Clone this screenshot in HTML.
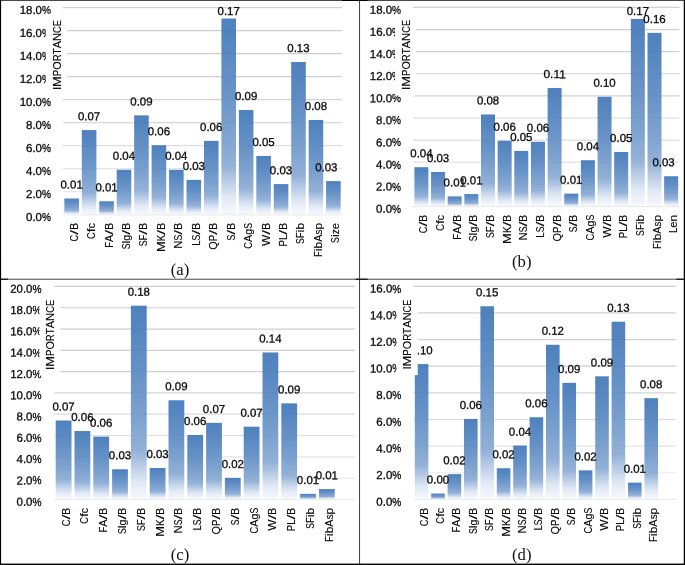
<!DOCTYPE html>
<html><head><meta charset="utf-8"><title>Feature importance</title>
<style>
html,body{margin:0;padding:0;background:#fff;}
svg{display:block;opacity:0.999;will-change:transform;}
text{font-family:"Liberation Sans",sans-serif;font-size:11.6px;fill:#080808;stroke:#080808;stroke-width:0.3px;}
.cap{font-family:"Liberation Serif",serif;font-size:16.7px;fill:#111;stroke:none;}
.g{stroke-width:1.2;}
.r text{stroke-width:0.15px;}
</style></head><body>
<svg width="685" height="565" viewBox="0 0 685 565">
<defs><linearGradient id="bg" x1="0" y1="0" x2="0" y2="1"><stop offset="0" stop-color="#3b73b6"/><stop offset="0.35" stop-color="#5686c1"/><stop offset="0.58" stop-color="#6f98ca"/><stop offset="0.75" stop-color="#88a9d4"/><stop offset="0.8" stop-color="#a3bcde"/><stop offset="0.85" stop-color="#bdd0e8"/><stop offset="0.9" stop-color="#d8e3f2"/><stop offset="0.95" stop-color="#eaeff8"/><stop offset="1.0" stop-color="#f6f8fd"/></linearGradient></defs>
<rect x="0" y="0" width="685" height="565" fill="#fff"/>
<g id="panel-a">
<line class="g" stroke="#eeeeee" x1="62.90" y1="214.60" x2="342.10" y2="214.60"/>
<text x="41.99" y="220.90" transform="rotate(0.03 51.00 220.90)" text-anchor="end" textLength="16.0" lengthAdjust="spacingAndGlyphs">0.0</text>
<text x="51.00" y="220.90" transform="rotate(0.03 51.00 220.90)" text-anchor="end" textLength="9.0" lengthAdjust="spacingAndGlyphs">%</text>
<line class="g" stroke="#e8e8e8" x1="62.90" y1="191.60" x2="342.10" y2="191.60"/>
<text x="41.99" y="197.90" transform="rotate(0.03 51.00 197.90)" text-anchor="end" textLength="16.0" lengthAdjust="spacingAndGlyphs">2.0</text>
<text x="51.00" y="197.90" transform="rotate(0.03 51.00 197.90)" text-anchor="end" textLength="9.0" lengthAdjust="spacingAndGlyphs">%</text>
<line class="g" stroke="#e3e3e3" x1="62.90" y1="168.60" x2="342.10" y2="168.60"/>
<text x="41.99" y="174.90" transform="rotate(0.03 51.00 174.90)" text-anchor="end" textLength="16.0" lengthAdjust="spacingAndGlyphs">4.0</text>
<text x="51.00" y="174.90" transform="rotate(0.03 51.00 174.90)" text-anchor="end" textLength="9.0" lengthAdjust="spacingAndGlyphs">%</text>
<line class="g" stroke="#dddddd" x1="62.90" y1="145.60" x2="342.10" y2="145.60"/>
<text x="41.99" y="151.90" transform="rotate(0.03 51.00 151.90)" text-anchor="end" textLength="16.0" lengthAdjust="spacingAndGlyphs">6.0</text>
<text x="51.00" y="151.90" transform="rotate(0.03 51.00 151.90)" text-anchor="end" textLength="9.0" lengthAdjust="spacingAndGlyphs">%</text>
<line class="g" stroke="#d8d8d8" x1="62.90" y1="122.60" x2="342.10" y2="122.60"/>
<text x="41.99" y="128.90" transform="rotate(0.03 51.00 128.90)" text-anchor="end" textLength="16.0" lengthAdjust="spacingAndGlyphs">8.0</text>
<text x="51.00" y="128.90" transform="rotate(0.03 51.00 128.90)" text-anchor="end" textLength="9.0" lengthAdjust="spacingAndGlyphs">%</text>
<line class="g" stroke="#d2d2d2" x1="62.90" y1="99.60" x2="342.10" y2="99.60"/>
<text x="41.99" y="105.90" transform="rotate(0.03 51.00 105.90)" text-anchor="end" textLength="22.3" lengthAdjust="spacingAndGlyphs">10.0</text>
<text x="51.00" y="105.90" transform="rotate(0.03 51.00 105.90)" text-anchor="end" textLength="9.0" lengthAdjust="spacingAndGlyphs">%</text>
<line class="g" stroke="#d0d0d0" x1="62.90" y1="76.60" x2="342.10" y2="76.60"/>
<text x="41.99" y="82.90" transform="rotate(0.03 51.00 82.90)" text-anchor="end" textLength="22.3" lengthAdjust="spacingAndGlyphs">12.0</text>
<text x="51.00" y="82.90" transform="rotate(0.03 51.00 82.90)" text-anchor="end" textLength="9.0" lengthAdjust="spacingAndGlyphs">%</text>
<line class="g" stroke="#d0d0d0" x1="62.90" y1="53.60" x2="342.10" y2="53.60"/>
<text x="41.99" y="59.90" transform="rotate(0.03 51.00 59.90)" text-anchor="end" textLength="22.3" lengthAdjust="spacingAndGlyphs">14.0</text>
<text x="51.00" y="59.90" transform="rotate(0.03 51.00 59.90)" text-anchor="end" textLength="9.0" lengthAdjust="spacingAndGlyphs">%</text>
<line class="g" stroke="#d0d0d0" x1="62.90" y1="30.60" x2="342.10" y2="30.60"/>
<text x="41.99" y="36.90" transform="rotate(0.03 51.00 36.90)" text-anchor="end" textLength="22.3" lengthAdjust="spacingAndGlyphs">16.0</text>
<text x="51.00" y="36.90" transform="rotate(0.03 51.00 36.90)" text-anchor="end" textLength="9.0" lengthAdjust="spacingAndGlyphs">%</text>
<line class="g" stroke="#d0d0d0" x1="62.90" y1="7.60" x2="342.10" y2="7.60"/>
<text x="41.99" y="13.90" transform="rotate(0.03 51.00 13.90)" text-anchor="end" textLength="22.3" lengthAdjust="spacingAndGlyphs">18.0</text>
<text x="51.00" y="13.90" transform="rotate(0.03 51.00 13.90)" text-anchor="end" textLength="9.0" lengthAdjust="spacingAndGlyphs">%</text>
<rect x="78.85" y="197.90" width="3.05" height="16.70" fill="#fff"/>
<rect x="64.35" y="198.50" width="14.60" height="16.10" fill="url(#bg)" fill-opacity="0.9"/>
<rect x="96.30" y="200.66" width="3.05" height="13.94" fill="#fff"/>
<rect x="81.80" y="130.07" width="14.60" height="84.53" fill="url(#bg)" fill-opacity="0.9"/>
<rect x="113.75" y="200.66" width="3.05" height="13.94" fill="#fff"/>
<rect x="99.25" y="201.26" width="14.60" height="13.34" fill="url(#bg)" fill-opacity="0.9"/>
<rect x="131.20" y="169.15" width="3.05" height="45.45" fill="#fff"/>
<rect x="116.70" y="169.75" width="14.60" height="44.85" fill="url(#bg)" fill-opacity="0.9"/>
<rect x="148.65" y="144.66" width="3.05" height="69.94" fill="#fff"/>
<rect x="134.15" y="115.35" width="14.60" height="99.25" fill="url(#bg)" fill-opacity="0.9"/>
<rect x="166.10" y="169.15" width="3.05" height="45.45" fill="#fff"/>
<rect x="151.60" y="145.25" width="14.60" height="69.34" fill="url(#bg)" fill-opacity="0.9"/>
<rect x="183.55" y="179.27" width="3.05" height="35.33" fill="#fff"/>
<rect x="169.05" y="169.75" width="14.60" height="44.85" fill="url(#bg)" fill-opacity="0.9"/>
<rect x="201.00" y="179.27" width="3.05" height="35.33" fill="#fff"/>
<rect x="186.50" y="179.87" width="14.60" height="34.73" fill="url(#bg)" fill-opacity="0.9"/>
<rect x="218.45" y="140.28" width="3.05" height="74.31" fill="#fff"/>
<rect x="203.95" y="140.88" width="14.60" height="73.72" fill="url(#bg)" fill-opacity="0.9"/>
<rect x="235.90" y="109.35" width="3.05" height="105.25" fill="#fff"/>
<rect x="221.40" y="18.52" width="14.60" height="196.08" fill="url(#bg)" fill-opacity="0.9"/>
<rect x="253.35" y="155.35" width="3.05" height="59.25" fill="#fff"/>
<rect x="238.85" y="109.95" width="14.60" height="104.65" fill="url(#bg)" fill-opacity="0.9"/>
<rect x="270.80" y="183.53" width="3.05" height="31.07" fill="#fff"/>
<rect x="256.30" y="155.95" width="14.60" height="58.65" fill="url(#bg)" fill-opacity="0.9"/>
<rect x="288.25" y="183.53" width="3.05" height="31.07" fill="#fff"/>
<rect x="273.75" y="184.12" width="14.60" height="30.47" fill="url(#bg)" fill-opacity="0.9"/>
<rect x="305.70" y="119.35" width="3.05" height="95.25" fill="#fff"/>
<rect x="291.20" y="62.00" width="14.60" height="152.60" fill="url(#bg)" fill-opacity="0.9"/>
<rect x="323.15" y="180.53" width="3.05" height="34.06" fill="#fff"/>
<rect x="308.65" y="119.95" width="14.60" height="94.65" fill="url(#bg)" fill-opacity="0.9"/>
<rect x="326.10" y="181.13" width="14.60" height="33.47" fill="url(#bg)" fill-opacity="0.9"/>
<rect x="62.90" y="213.90" width="279.20" height="0.7" fill="#fff"/>
<line x1="62.90" y1="214.70" x2="342.10" y2="214.70" stroke="#e9e9e9" stroke-width="1.1"/>
<text x="71.62" y="188.60" transform="rotate(0.03 71.62 188.60)" text-anchor="middle" textLength="22.3" lengthAdjust="spacingAndGlyphs">0.01</text>
<text x="89.07" y="120.17" transform="rotate(0.03 89.07 120.17)" text-anchor="middle" textLength="22.3" lengthAdjust="spacingAndGlyphs">0.07</text>
<text x="106.53" y="191.36" transform="rotate(0.03 106.53 191.36)" text-anchor="middle" textLength="22.3" lengthAdjust="spacingAndGlyphs">0.01</text>
<text x="123.97" y="159.85" transform="rotate(0.03 123.97 159.85)" text-anchor="middle" textLength="22.3" lengthAdjust="spacingAndGlyphs">0.04</text>
<text x="141.42" y="105.45" transform="rotate(0.03 141.42 105.45)" text-anchor="middle" textLength="22.3" lengthAdjust="spacingAndGlyphs">0.09</text>
<text x="158.88" y="135.35" transform="rotate(0.03 158.88 135.35)" text-anchor="middle" textLength="22.3" lengthAdjust="spacingAndGlyphs">0.06</text>
<text x="176.32" y="159.85" transform="rotate(0.03 176.32 159.85)" text-anchor="middle" textLength="22.3" lengthAdjust="spacingAndGlyphs">0.04</text>
<text x="193.78" y="169.97" transform="rotate(0.03 193.78 169.97)" text-anchor="middle" textLength="22.3" lengthAdjust="spacingAndGlyphs">0.03</text>
<text x="211.22" y="130.98" transform="rotate(0.03 211.22 130.98)" text-anchor="middle" textLength="22.3" lengthAdjust="spacingAndGlyphs">0.06</text>
<text x="228.68" y="14.90" transform="rotate(0.03 228.68 14.90)" text-anchor="middle" textLength="22.3" lengthAdjust="spacingAndGlyphs">0.17</text>
<text x="246.12" y="100.05" transform="rotate(0.03 246.12 100.05)" text-anchor="middle" textLength="22.3" lengthAdjust="spacingAndGlyphs">0.09</text>
<text x="263.57" y="146.05" transform="rotate(0.03 263.57 146.05)" text-anchor="middle" textLength="22.3" lengthAdjust="spacingAndGlyphs">0.05</text>
<text x="281.02" y="174.22" transform="rotate(0.03 281.02 174.22)" text-anchor="middle" textLength="22.3" lengthAdjust="spacingAndGlyphs">0.03</text>
<text x="298.47" y="52.10" transform="rotate(0.03 298.47 52.10)" text-anchor="middle" textLength="22.3" lengthAdjust="spacingAndGlyphs">0.13</text>
<text x="315.92" y="110.05" transform="rotate(0.03 315.92 110.05)" text-anchor="middle" textLength="22.3" lengthAdjust="spacingAndGlyphs">0.08</text>
<text x="326.30" y="171.23" transform="rotate(0.03 326.30 171.23)" text-anchor="middle" textLength="22.3" lengthAdjust="spacingAndGlyphs">0.03</text>
<g class="r" transform="translate(77.62,223.00) rotate(-90)"><text x="-18.43" textLength="6.72" lengthAdjust="spacingAndGlyphs">C</text><text x="-11.72" textLength="4.86" lengthAdjust="spacingAndGlyphs">/</text><text x="-6.85" textLength="6.85" lengthAdjust="spacingAndGlyphs">B</text></g>
<g class="r" transform="translate(95.07,223.00) rotate(-90)"><text x="-15.89" textLength="6.72" lengthAdjust="spacingAndGlyphs">C</text><text x="-9.17" textLength="3.84" lengthAdjust="spacingAndGlyphs">f</text><text x="-5.33" textLength="5.33" lengthAdjust="spacingAndGlyphs">c</text></g>
<g class="r" transform="translate(112.53,223.00) rotate(-90)"><text x="-24.80" textLength="5.78" lengthAdjust="spacingAndGlyphs">F</text><text x="-19.01" textLength="7.30" lengthAdjust="spacingAndGlyphs">A</text><text x="-11.72" textLength="4.86" lengthAdjust="spacingAndGlyphs">/</text><text x="-6.85" textLength="6.85" lengthAdjust="spacingAndGlyphs">B</text></g>
<g class="r" transform="translate(129.97,223.00) rotate(-90)"><text x="-26.32" textLength="5.78" lengthAdjust="spacingAndGlyphs">S</text><text x="-20.54" textLength="2.89" lengthAdjust="spacingAndGlyphs">l</text><text x="-17.65" textLength="5.93" lengthAdjust="spacingAndGlyphs">g</text><text x="-11.72" textLength="4.86" lengthAdjust="spacingAndGlyphs">/</text><text x="-6.85" textLength="6.85" lengthAdjust="spacingAndGlyphs">B</text></g>
<g class="r" transform="translate(147.42,223.00) rotate(-90)"><text x="-23.28" textLength="5.78" lengthAdjust="spacingAndGlyphs">S</text><text x="-17.50" textLength="5.78" lengthAdjust="spacingAndGlyphs">F</text><text x="-11.72" textLength="4.86" lengthAdjust="spacingAndGlyphs">/</text><text x="-6.85" textLength="6.85" lengthAdjust="spacingAndGlyphs">B</text></g>
<g class="r" transform="translate(164.88,223.00) rotate(-90)"><text x="-29.04" textLength="10.77" lengthAdjust="spacingAndGlyphs">M</text><text x="-18.27" textLength="6.55" lengthAdjust="spacingAndGlyphs">K</text><text x="-11.72" textLength="4.86" lengthAdjust="spacingAndGlyphs">/</text><text x="-6.85" textLength="6.85" lengthAdjust="spacingAndGlyphs">B</text></g>
<g class="r" transform="translate(182.32,223.00) rotate(-90)"><text x="-25.64" textLength="8.14" lengthAdjust="spacingAndGlyphs">N</text><text x="-17.50" textLength="5.78" lengthAdjust="spacingAndGlyphs">S</text><text x="-11.72" textLength="4.86" lengthAdjust="spacingAndGlyphs">/</text><text x="-6.85" textLength="6.85" lengthAdjust="spacingAndGlyphs">B</text></g>
<g class="r" transform="translate(199.78,223.00) rotate(-90)"><text x="-22.79" textLength="5.29" lengthAdjust="spacingAndGlyphs">L</text><text x="-17.50" textLength="5.78" lengthAdjust="spacingAndGlyphs">S</text><text x="-11.72" textLength="4.86" lengthAdjust="spacingAndGlyphs">/</text><text x="-6.85" textLength="6.85" lengthAdjust="spacingAndGlyphs">B</text></g>
<g class="r" transform="translate(217.22,223.00) rotate(-90)"><text x="-26.71" textLength="8.48" lengthAdjust="spacingAndGlyphs">Q</text><text x="-18.23" textLength="6.51" lengthAdjust="spacingAndGlyphs">P</text><text x="-11.72" textLength="4.86" lengthAdjust="spacingAndGlyphs">/</text><text x="-6.85" textLength="6.85" lengthAdjust="spacingAndGlyphs">B</text></g>
<g class="r" transform="translate(234.68,223.00) rotate(-90)"><text x="-17.50" textLength="5.78" lengthAdjust="spacingAndGlyphs">S</text><text x="-11.72" textLength="4.86" lengthAdjust="spacingAndGlyphs">/</text><text x="-6.85" textLength="6.85" lengthAdjust="spacingAndGlyphs">B</text></g>
<g class="r" transform="translate(252.12,223.00) rotate(-90)"><text x="-25.73" textLength="6.72" lengthAdjust="spacingAndGlyphs">C</text><text x="-19.01" textLength="7.30" lengthAdjust="spacingAndGlyphs">A</text><text x="-11.72" textLength="5.93" lengthAdjust="spacingAndGlyphs">g</text><text x="-5.78" textLength="5.78" lengthAdjust="spacingAndGlyphs">S</text></g>
<g class="r" transform="translate(269.57,223.00) rotate(-90)"><text x="-22.93" textLength="11.21" lengthAdjust="spacingAndGlyphs">W</text><text x="-11.72" textLength="4.86" lengthAdjust="spacingAndGlyphs">/</text><text x="-6.85" textLength="6.85" lengthAdjust="spacingAndGlyphs">B</text></g>
<g class="r" transform="translate(287.02,223.00) rotate(-90)"><text x="-23.52" textLength="6.51" lengthAdjust="spacingAndGlyphs">P</text><text x="-17.01" textLength="5.29" lengthAdjust="spacingAndGlyphs">L</text><text x="-11.72" textLength="4.86" lengthAdjust="spacingAndGlyphs">/</text><text x="-6.85" textLength="6.85" lengthAdjust="spacingAndGlyphs">B</text></g>
<g class="r" transform="translate(304.47,223.00) rotate(-90)"><text x="-21.07" textLength="5.78" lengthAdjust="spacingAndGlyphs">S</text><text x="-15.28" textLength="5.78" lengthAdjust="spacingAndGlyphs">F</text><text x="-9.50" textLength="2.89" lengthAdjust="spacingAndGlyphs">i</text><text x="-6.61" textLength="6.62" lengthAdjust="spacingAndGlyphs">b</text></g>
<g class="r" transform="translate(321.92,223.00) rotate(-90)"><text x="-34.12" textLength="5.78" lengthAdjust="spacingAndGlyphs">F</text><text x="-28.34" textLength="2.89" lengthAdjust="spacingAndGlyphs">i</text><text x="-25.45" textLength="6.62" lengthAdjust="spacingAndGlyphs">b</text><text x="-18.84" textLength="7.30" lengthAdjust="spacingAndGlyphs">A</text><text x="-11.54" textLength="4.93" lengthAdjust="spacingAndGlyphs">s</text><text x="-6.62" textLength="6.62" lengthAdjust="spacingAndGlyphs">p</text></g>
<g class="r" transform="translate(339.37,223.00) rotate(-90)"><text x="-19.92" textLength="5.78" lengthAdjust="spacingAndGlyphs">S</text><text x="-14.14" textLength="2.89" lengthAdjust="spacingAndGlyphs">i</text><text x="-11.25" textLength="4.98" lengthAdjust="spacingAndGlyphs">z</text><text x="-6.27" textLength="6.27" lengthAdjust="spacingAndGlyphs">e</text></g>
<rect x="46.00" y="13.70" width="21.00" height="82.00" fill="#fff"/>
<g class="r" transform="translate(61.00,90.10) rotate(-90)"><text x="0.00" textLength="3.18" lengthAdjust="spacingAndGlyphs">I</text><text x="3.18" textLength="10.77" lengthAdjust="spacingAndGlyphs">M</text><text x="13.95" textLength="6.51" lengthAdjust="spacingAndGlyphs">P</text><text x="20.46" textLength="8.34" lengthAdjust="spacingAndGlyphs">O</text><text x="28.80" textLength="6.84" lengthAdjust="spacingAndGlyphs">R</text><text x="35.65" textLength="6.14" lengthAdjust="spacingAndGlyphs">T</text><text x="41.78" textLength="7.30" lengthAdjust="spacingAndGlyphs">A</text><text x="49.08" textLength="8.14" lengthAdjust="spacingAndGlyphs">N</text><text x="57.22" textLength="6.72" lengthAdjust="spacingAndGlyphs">C</text><text x="63.93" textLength="6.15" lengthAdjust="spacingAndGlyphs">E</text></g>
<text class="cap" x="180.00" y="275.00" text-anchor="middle">(a)</text>
</g>
<g id="panel-b">
<line class="g" stroke="#eeeeee" x1="413.10" y1="206.45" x2="679.50" y2="206.45"/>
<text x="392.09" y="212.75" transform="rotate(0.03 401.10 212.75)" text-anchor="end" textLength="16.0" lengthAdjust="spacingAndGlyphs">0.0</text>
<text x="401.10" y="212.75" transform="rotate(0.03 401.10 212.75)" text-anchor="end" textLength="9.0" lengthAdjust="spacingAndGlyphs">%</text>
<line class="g" stroke="#e8e8e8" x1="413.10" y1="184.34" x2="679.50" y2="184.34"/>
<text x="392.09" y="190.64" transform="rotate(0.03 401.10 190.64)" text-anchor="end" textLength="16.0" lengthAdjust="spacingAndGlyphs">2.0</text>
<text x="401.10" y="190.64" transform="rotate(0.03 401.10 190.64)" text-anchor="end" textLength="9.0" lengthAdjust="spacingAndGlyphs">%</text>
<line class="g" stroke="#e3e3e3" x1="413.10" y1="162.22" x2="679.50" y2="162.22"/>
<text x="392.09" y="168.52" transform="rotate(0.03 401.10 168.52)" text-anchor="end" textLength="16.0" lengthAdjust="spacingAndGlyphs">4.0</text>
<text x="401.10" y="168.52" transform="rotate(0.03 401.10 168.52)" text-anchor="end" textLength="9.0" lengthAdjust="spacingAndGlyphs">%</text>
<line class="g" stroke="#dddddd" x1="413.10" y1="140.11" x2="679.50" y2="140.11"/>
<text x="392.09" y="146.41" transform="rotate(0.03 401.10 146.41)" text-anchor="end" textLength="16.0" lengthAdjust="spacingAndGlyphs">6.0</text>
<text x="401.10" y="146.41" transform="rotate(0.03 401.10 146.41)" text-anchor="end" textLength="9.0" lengthAdjust="spacingAndGlyphs">%</text>
<line class="g" stroke="#d8d8d8" x1="413.10" y1="117.99" x2="679.50" y2="117.99"/>
<text x="392.09" y="124.29" transform="rotate(0.03 401.10 124.29)" text-anchor="end" textLength="16.0" lengthAdjust="spacingAndGlyphs">8.0</text>
<text x="401.10" y="124.29" transform="rotate(0.03 401.10 124.29)" text-anchor="end" textLength="9.0" lengthAdjust="spacingAndGlyphs">%</text>
<line class="g" stroke="#d2d2d2" x1="413.10" y1="95.88" x2="679.50" y2="95.88"/>
<text x="392.09" y="102.18" transform="rotate(0.03 401.10 102.18)" text-anchor="end" textLength="22.3" lengthAdjust="spacingAndGlyphs">10.0</text>
<text x="401.10" y="102.18" transform="rotate(0.03 401.10 102.18)" text-anchor="end" textLength="9.0" lengthAdjust="spacingAndGlyphs">%</text>
<line class="g" stroke="#d0d0d0" x1="413.10" y1="73.77" x2="679.50" y2="73.77"/>
<text x="392.09" y="80.07" transform="rotate(0.03 401.10 80.07)" text-anchor="end" textLength="22.3" lengthAdjust="spacingAndGlyphs">12.0</text>
<text x="401.10" y="80.07" transform="rotate(0.03 401.10 80.07)" text-anchor="end" textLength="9.0" lengthAdjust="spacingAndGlyphs">%</text>
<line class="g" stroke="#d0d0d0" x1="413.10" y1="51.65" x2="679.50" y2="51.65"/>
<text x="392.09" y="57.95" transform="rotate(0.03 401.10 57.95)" text-anchor="end" textLength="22.3" lengthAdjust="spacingAndGlyphs">14.0</text>
<text x="401.10" y="57.95" transform="rotate(0.03 401.10 57.95)" text-anchor="end" textLength="9.0" lengthAdjust="spacingAndGlyphs">%</text>
<line class="g" stroke="#d0d0d0" x1="413.10" y1="29.54" x2="679.50" y2="29.54"/>
<text x="392.09" y="35.84" transform="rotate(0.03 401.10 35.84)" text-anchor="end" textLength="22.3" lengthAdjust="spacingAndGlyphs">16.0</text>
<text x="401.10" y="35.84" transform="rotate(0.03 401.10 35.84)" text-anchor="end" textLength="9.0" lengthAdjust="spacingAndGlyphs">%</text>
<line class="g" stroke="#d0d0d0" x1="413.10" y1="7.42" x2="679.50" y2="7.42"/>
<text x="392.09" y="13.72" transform="rotate(0.03 401.10 13.72)" text-anchor="end" textLength="22.3" lengthAdjust="spacingAndGlyphs">18.0</text>
<text x="401.10" y="13.72" transform="rotate(0.03 401.10 13.72)" text-anchor="end" textLength="9.0" lengthAdjust="spacingAndGlyphs">%</text>
<rect x="428.30" y="171.35" width="2.85" height="35.10" fill="#fff"/>
<rect x="414.40" y="167.20" width="14.00" height="39.25" fill="url(#bg)" fill-opacity="0.9"/>
<rect x="444.95" y="195.79" width="2.85" height="10.66" fill="#fff"/>
<rect x="431.05" y="171.95" width="14.00" height="34.50" fill="url(#bg)" fill-opacity="0.9"/>
<rect x="461.60" y="195.79" width="2.85" height="10.66" fill="#fff"/>
<rect x="447.70" y="196.39" width="14.00" height="10.06" fill="url(#bg)" fill-opacity="0.9"/>
<rect x="478.25" y="193.47" width="2.85" height="12.98" fill="#fff"/>
<rect x="464.35" y="194.07" width="14.00" height="12.38" fill="url(#bg)" fill-opacity="0.9"/>
<rect x="494.90" y="140.17" width="2.85" height="66.28" fill="#fff"/>
<rect x="481.00" y="114.46" width="14.00" height="91.99" fill="url(#bg)" fill-opacity="0.9"/>
<rect x="511.55" y="150.34" width="2.85" height="56.11" fill="#fff"/>
<rect x="497.65" y="140.77" width="14.00" height="65.68" fill="url(#bg)" fill-opacity="0.9"/>
<rect x="528.20" y="150.34" width="2.85" height="56.11" fill="#fff"/>
<rect x="514.30" y="150.94" width="14.00" height="55.51" fill="url(#bg)" fill-opacity="0.9"/>
<rect x="544.85" y="141.17" width="2.85" height="65.28" fill="#fff"/>
<rect x="530.95" y="141.77" width="14.00" height="64.68" fill="url(#bg)" fill-opacity="0.9"/>
<rect x="561.50" y="193.02" width="2.85" height="13.43" fill="#fff"/>
<rect x="547.60" y="88.03" width="14.00" height="118.42" fill="url(#bg)" fill-opacity="0.9"/>
<rect x="578.15" y="193.02" width="2.85" height="13.43" fill="#fff"/>
<rect x="564.25" y="193.62" width="14.00" height="12.83" fill="url(#bg)" fill-opacity="0.9"/>
<rect x="594.80" y="159.63" width="2.85" height="46.82" fill="#fff"/>
<rect x="580.90" y="160.23" width="14.00" height="46.22" fill="url(#bg)" fill-opacity="0.9"/>
<rect x="611.45" y="151.34" width="2.85" height="55.11" fill="#fff"/>
<rect x="597.55" y="96.76" width="14.00" height="109.69" fill="url(#bg)" fill-opacity="0.9"/>
<rect x="628.10" y="151.34" width="2.85" height="55.11" fill="#fff"/>
<rect x="614.20" y="151.94" width="14.00" height="54.51" fill="url(#bg)" fill-opacity="0.9"/>
<rect x="644.75" y="32.26" width="2.85" height="174.19" fill="#fff"/>
<rect x="630.85" y="18.92" width="14.00" height="187.53" fill="url(#bg)" fill-opacity="0.9"/>
<rect x="661.40" y="175.66" width="2.85" height="30.79" fill="#fff"/>
<rect x="647.50" y="32.86" width="14.00" height="173.59" fill="url(#bg)" fill-opacity="0.9"/>
<rect x="664.15" y="176.26" width="14.00" height="30.19" fill="url(#bg)" fill-opacity="0.9"/>
<rect x="413.10" y="205.75" width="266.40" height="0.7" fill="#fff"/>
<line x1="413.10" y1="206.55" x2="679.50" y2="206.55" stroke="#e9e9e9" stroke-width="1.1"/>
<text x="421.43" y="157.30" transform="rotate(0.03 421.43 157.30)" text-anchor="middle" textLength="22.3" lengthAdjust="spacingAndGlyphs">0.04</text>
<text x="438.08" y="162.05" transform="rotate(0.03 438.08 162.05)" text-anchor="middle" textLength="22.3" lengthAdjust="spacingAndGlyphs">0.03</text>
<text x="454.73" y="186.49" transform="rotate(0.03 454.73 186.49)" text-anchor="middle" textLength="22.3" lengthAdjust="spacingAndGlyphs">0.01</text>
<text x="471.38" y="184.17" transform="rotate(0.03 471.38 184.17)" text-anchor="middle" textLength="22.3" lengthAdjust="spacingAndGlyphs">0.01</text>
<text x="488.03" y="104.56" transform="rotate(0.03 488.03 104.56)" text-anchor="middle" textLength="22.3" lengthAdjust="spacingAndGlyphs">0.08</text>
<text x="504.68" y="130.87" transform="rotate(0.03 504.68 130.87)" text-anchor="middle" textLength="22.3" lengthAdjust="spacingAndGlyphs">0.06</text>
<text x="521.33" y="141.04" transform="rotate(0.03 521.33 141.04)" text-anchor="middle" textLength="22.3" lengthAdjust="spacingAndGlyphs">0.05</text>
<text x="537.98" y="131.87" transform="rotate(0.03 537.98 131.87)" text-anchor="middle" textLength="22.3" lengthAdjust="spacingAndGlyphs">0.06</text>
<text x="554.62" y="78.13" transform="rotate(0.03 554.62 78.13)" text-anchor="middle" textLength="22.3" lengthAdjust="spacingAndGlyphs">0.11</text>
<text x="571.27" y="183.72" transform="rotate(0.03 571.27 183.72)" text-anchor="middle" textLength="22.3" lengthAdjust="spacingAndGlyphs">0.01</text>
<text x="587.92" y="150.33" transform="rotate(0.03 587.92 150.33)" text-anchor="middle" textLength="22.3" lengthAdjust="spacingAndGlyphs">0.04</text>
<text x="604.58" y="86.86" transform="rotate(0.03 604.58 86.86)" text-anchor="middle" textLength="22.3" lengthAdjust="spacingAndGlyphs">0.10</text>
<text x="621.23" y="142.04" transform="rotate(0.03 621.23 142.04)" text-anchor="middle" textLength="22.3" lengthAdjust="spacingAndGlyphs">0.05</text>
<text x="637.88" y="15.10" transform="rotate(0.03 637.88 15.10)" text-anchor="middle" textLength="22.3" lengthAdjust="spacingAndGlyphs">0.17</text>
<text x="654.52" y="22.96" transform="rotate(0.03 654.52 22.96)" text-anchor="middle" textLength="22.3" lengthAdjust="spacingAndGlyphs">0.16</text>
<text x="663.60" y="166.36" transform="rotate(0.03 663.60 166.36)" text-anchor="middle" textLength="22.3" lengthAdjust="spacingAndGlyphs">0.03</text>
<g class="r" transform="translate(427.43,214.85) rotate(-90)"><text x="-18.43" textLength="6.72" lengthAdjust="spacingAndGlyphs">C</text><text x="-11.72" textLength="4.86" lengthAdjust="spacingAndGlyphs">/</text><text x="-6.85" textLength="6.85" lengthAdjust="spacingAndGlyphs">B</text></g>
<g class="r" transform="translate(444.08,214.85) rotate(-90)"><text x="-15.89" textLength="6.72" lengthAdjust="spacingAndGlyphs">C</text><text x="-9.17" textLength="3.84" lengthAdjust="spacingAndGlyphs">f</text><text x="-5.33" textLength="5.33" lengthAdjust="spacingAndGlyphs">c</text></g>
<g class="r" transform="translate(460.73,214.85) rotate(-90)"><text x="-24.80" textLength="5.78" lengthAdjust="spacingAndGlyphs">F</text><text x="-19.01" textLength="7.30" lengthAdjust="spacingAndGlyphs">A</text><text x="-11.72" textLength="4.86" lengthAdjust="spacingAndGlyphs">/</text><text x="-6.85" textLength="6.85" lengthAdjust="spacingAndGlyphs">B</text></g>
<g class="r" transform="translate(477.38,214.85) rotate(-90)"><text x="-26.32" textLength="5.78" lengthAdjust="spacingAndGlyphs">S</text><text x="-20.54" textLength="2.89" lengthAdjust="spacingAndGlyphs">l</text><text x="-17.65" textLength="5.93" lengthAdjust="spacingAndGlyphs">g</text><text x="-11.72" textLength="4.86" lengthAdjust="spacingAndGlyphs">/</text><text x="-6.85" textLength="6.85" lengthAdjust="spacingAndGlyphs">B</text></g>
<g class="r" transform="translate(494.03,214.85) rotate(-90)"><text x="-23.28" textLength="5.78" lengthAdjust="spacingAndGlyphs">S</text><text x="-17.50" textLength="5.78" lengthAdjust="spacingAndGlyphs">F</text><text x="-11.72" textLength="4.86" lengthAdjust="spacingAndGlyphs">/</text><text x="-6.85" textLength="6.85" lengthAdjust="spacingAndGlyphs">B</text></g>
<g class="r" transform="translate(510.68,214.85) rotate(-90)"><text x="-29.04" textLength="10.77" lengthAdjust="spacingAndGlyphs">M</text><text x="-18.27" textLength="6.55" lengthAdjust="spacingAndGlyphs">K</text><text x="-11.72" textLength="4.86" lengthAdjust="spacingAndGlyphs">/</text><text x="-6.85" textLength="6.85" lengthAdjust="spacingAndGlyphs">B</text></g>
<g class="r" transform="translate(527.33,214.85) rotate(-90)"><text x="-25.64" textLength="8.14" lengthAdjust="spacingAndGlyphs">N</text><text x="-17.50" textLength="5.78" lengthAdjust="spacingAndGlyphs">S</text><text x="-11.72" textLength="4.86" lengthAdjust="spacingAndGlyphs">/</text><text x="-6.85" textLength="6.85" lengthAdjust="spacingAndGlyphs">B</text></g>
<g class="r" transform="translate(543.98,214.85) rotate(-90)"><text x="-22.79" textLength="5.29" lengthAdjust="spacingAndGlyphs">L</text><text x="-17.50" textLength="5.78" lengthAdjust="spacingAndGlyphs">S</text><text x="-11.72" textLength="4.86" lengthAdjust="spacingAndGlyphs">/</text><text x="-6.85" textLength="6.85" lengthAdjust="spacingAndGlyphs">B</text></g>
<g class="r" transform="translate(560.62,214.85) rotate(-90)"><text x="-26.71" textLength="8.48" lengthAdjust="spacingAndGlyphs">Q</text><text x="-18.23" textLength="6.51" lengthAdjust="spacingAndGlyphs">P</text><text x="-11.72" textLength="4.86" lengthAdjust="spacingAndGlyphs">/</text><text x="-6.85" textLength="6.85" lengthAdjust="spacingAndGlyphs">B</text></g>
<g class="r" transform="translate(577.27,214.85) rotate(-90)"><text x="-17.50" textLength="5.78" lengthAdjust="spacingAndGlyphs">S</text><text x="-11.72" textLength="4.86" lengthAdjust="spacingAndGlyphs">/</text><text x="-6.85" textLength="6.85" lengthAdjust="spacingAndGlyphs">B</text></g>
<g class="r" transform="translate(593.92,214.85) rotate(-90)"><text x="-25.73" textLength="6.72" lengthAdjust="spacingAndGlyphs">C</text><text x="-19.01" textLength="7.30" lengthAdjust="spacingAndGlyphs">A</text><text x="-11.72" textLength="5.93" lengthAdjust="spacingAndGlyphs">g</text><text x="-5.78" textLength="5.78" lengthAdjust="spacingAndGlyphs">S</text></g>
<g class="r" transform="translate(610.58,214.85) rotate(-90)"><text x="-22.93" textLength="11.21" lengthAdjust="spacingAndGlyphs">W</text><text x="-11.72" textLength="4.86" lengthAdjust="spacingAndGlyphs">/</text><text x="-6.85" textLength="6.85" lengthAdjust="spacingAndGlyphs">B</text></g>
<g class="r" transform="translate(627.23,214.85) rotate(-90)"><text x="-23.52" textLength="6.51" lengthAdjust="spacingAndGlyphs">P</text><text x="-17.01" textLength="5.29" lengthAdjust="spacingAndGlyphs">L</text><text x="-11.72" textLength="4.86" lengthAdjust="spacingAndGlyphs">/</text><text x="-6.85" textLength="6.85" lengthAdjust="spacingAndGlyphs">B</text></g>
<g class="r" transform="translate(643.88,214.85) rotate(-90)"><text x="-21.07" textLength="5.78" lengthAdjust="spacingAndGlyphs">S</text><text x="-15.28" textLength="5.78" lengthAdjust="spacingAndGlyphs">F</text><text x="-9.50" textLength="2.89" lengthAdjust="spacingAndGlyphs">i</text><text x="-6.61" textLength="6.62" lengthAdjust="spacingAndGlyphs">b</text></g>
<g class="r" transform="translate(660.52,214.85) rotate(-90)"><text x="-34.12" textLength="5.78" lengthAdjust="spacingAndGlyphs">F</text><text x="-28.34" textLength="2.89" lengthAdjust="spacingAndGlyphs">i</text><text x="-25.45" textLength="6.62" lengthAdjust="spacingAndGlyphs">b</text><text x="-18.84" textLength="7.30" lengthAdjust="spacingAndGlyphs">A</text><text x="-11.54" textLength="4.93" lengthAdjust="spacingAndGlyphs">s</text><text x="-6.62" textLength="6.62" lengthAdjust="spacingAndGlyphs">p</text></g>
<g class="r" transform="translate(677.17,214.85) rotate(-90)"><text x="-18.18" textLength="5.29" lengthAdjust="spacingAndGlyphs">L</text><text x="-12.89" textLength="6.27" lengthAdjust="spacingAndGlyphs">e</text><text x="-6.61" textLength="6.62" lengthAdjust="spacingAndGlyphs">n</text></g>
<rect x="395.00" y="13.80" width="20.70" height="81.80" fill="#fff"/>
<g class="r" transform="translate(410.20,90.00) rotate(-90)"><text x="0.00" textLength="3.18" lengthAdjust="spacingAndGlyphs">I</text><text x="3.18" textLength="10.77" lengthAdjust="spacingAndGlyphs">M</text><text x="13.95" textLength="6.51" lengthAdjust="spacingAndGlyphs">P</text><text x="20.46" textLength="8.34" lengthAdjust="spacingAndGlyphs">O</text><text x="28.80" textLength="6.84" lengthAdjust="spacingAndGlyphs">R</text><text x="35.65" textLength="6.14" lengthAdjust="spacingAndGlyphs">T</text><text x="41.78" textLength="7.30" lengthAdjust="spacingAndGlyphs">A</text><text x="49.08" textLength="8.14" lengthAdjust="spacingAndGlyphs">N</text><text x="57.22" textLength="6.72" lengthAdjust="spacingAndGlyphs">C</text><text x="63.93" textLength="6.15" lengthAdjust="spacingAndGlyphs">E</text></g>
<text class="cap" x="521.80" y="266.50" text-anchor="middle">(b)</text>
</g>
<g id="panel-c">
<line class="g" stroke="#eeeeee" x1="54.20" y1="499.40" x2="355.00" y2="499.40"/>
<text x="32.49" y="505.70" transform="rotate(0.03 41.50 505.70)" text-anchor="end" textLength="16.0" lengthAdjust="spacingAndGlyphs">0.0</text>
<text x="41.50" y="505.70" transform="rotate(0.03 41.50 505.70)" text-anchor="end" textLength="9.0" lengthAdjust="spacingAndGlyphs">%</text>
<line class="g" stroke="#e9e9e9" x1="54.20" y1="478.10" x2="355.00" y2="478.10"/>
<text x="32.49" y="484.40" transform="rotate(0.03 41.50 484.40)" text-anchor="end" textLength="16.0" lengthAdjust="spacingAndGlyphs">2.0</text>
<text x="41.50" y="484.40" transform="rotate(0.03 41.50 484.40)" text-anchor="end" textLength="9.0" lengthAdjust="spacingAndGlyphs">%</text>
<line class="g" stroke="#e4e4e4" x1="54.20" y1="456.81" x2="355.00" y2="456.81"/>
<text x="32.49" y="463.11" transform="rotate(0.03 41.50 463.11)" text-anchor="end" textLength="16.0" lengthAdjust="spacingAndGlyphs">4.0</text>
<text x="41.50" y="463.11" transform="rotate(0.03 41.50 463.11)" text-anchor="end" textLength="9.0" lengthAdjust="spacingAndGlyphs">%</text>
<line class="g" stroke="#dfdfdf" x1="54.20" y1="435.51" x2="355.00" y2="435.51"/>
<text x="32.49" y="441.81" transform="rotate(0.03 41.50 441.81)" text-anchor="end" textLength="16.0" lengthAdjust="spacingAndGlyphs">6.0</text>
<text x="41.50" y="441.81" transform="rotate(0.03 41.50 441.81)" text-anchor="end" textLength="9.0" lengthAdjust="spacingAndGlyphs">%</text>
<line class="g" stroke="#dadada" x1="54.20" y1="414.22" x2="355.00" y2="414.22"/>
<text x="32.49" y="420.52" transform="rotate(0.03 41.50 420.52)" text-anchor="end" textLength="16.0" lengthAdjust="spacingAndGlyphs">8.0</text>
<text x="41.50" y="420.52" transform="rotate(0.03 41.50 420.52)" text-anchor="end" textLength="9.0" lengthAdjust="spacingAndGlyphs">%</text>
<line class="g" stroke="#d5d5d5" x1="54.20" y1="392.92" x2="355.00" y2="392.92"/>
<text x="32.49" y="399.22" transform="rotate(0.03 41.50 399.22)" text-anchor="end" textLength="22.3" lengthAdjust="spacingAndGlyphs">10.0</text>
<text x="41.50" y="399.22" transform="rotate(0.03 41.50 399.22)" text-anchor="end" textLength="9.0" lengthAdjust="spacingAndGlyphs">%</text>
<line class="g" stroke="#d0d0d0" x1="54.20" y1="371.62" x2="355.00" y2="371.62"/>
<text x="32.49" y="377.92" transform="rotate(0.03 41.50 377.92)" text-anchor="end" textLength="22.3" lengthAdjust="spacingAndGlyphs">12.0</text>
<text x="41.50" y="377.92" transform="rotate(0.03 41.50 377.92)" text-anchor="end" textLength="9.0" lengthAdjust="spacingAndGlyphs">%</text>
<line class="g" stroke="#d0d0d0" x1="54.20" y1="350.33" x2="355.00" y2="350.33"/>
<text x="32.49" y="356.63" transform="rotate(0.03 41.50 356.63)" text-anchor="end" textLength="22.3" lengthAdjust="spacingAndGlyphs">14.0</text>
<text x="41.50" y="356.63" transform="rotate(0.03 41.50 356.63)" text-anchor="end" textLength="9.0" lengthAdjust="spacingAndGlyphs">%</text>
<line class="g" stroke="#d0d0d0" x1="54.20" y1="329.03" x2="355.00" y2="329.03"/>
<text x="32.49" y="335.33" transform="rotate(0.03 41.50 335.33)" text-anchor="end" textLength="22.3" lengthAdjust="spacingAndGlyphs">16.0</text>
<text x="41.50" y="335.33" transform="rotate(0.03 41.50 335.33)" text-anchor="end" textLength="9.0" lengthAdjust="spacingAndGlyphs">%</text>
<line class="g" stroke="#d0d0d0" x1="54.20" y1="307.74" x2="355.00" y2="307.74"/>
<text x="32.49" y="314.04" transform="rotate(0.03 41.50 314.04)" text-anchor="end" textLength="22.3" lengthAdjust="spacingAndGlyphs">18.0</text>
<text x="41.50" y="314.04" transform="rotate(0.03 41.50 314.04)" text-anchor="end" textLength="9.0" lengthAdjust="spacingAndGlyphs">%</text>
<line class="g" stroke="#d0d0d0" x1="54.20" y1="286.44" x2="355.00" y2="286.44"/>
<text x="32.49" y="292.74" transform="rotate(0.03 41.50 292.74)" text-anchor="end" textLength="22.3" lengthAdjust="spacingAndGlyphs">20.0</text>
<text x="41.50" y="292.74" transform="rotate(0.03 41.50 292.74)" text-anchor="end" textLength="9.0" lengthAdjust="spacingAndGlyphs">%</text>
<rect x="71.40" y="430.44" width="3.20" height="68.96" fill="#fff"/>
<rect x="55.70" y="420.50" width="15.80" height="78.90" fill="url(#bg)" fill-opacity="0.9"/>
<rect x="90.20" y="435.98" width="3.20" height="63.42" fill="#fff"/>
<rect x="74.50" y="431.04" width="15.80" height="68.36" fill="url(#bg)" fill-opacity="0.9"/>
<rect x="109.00" y="468.67" width="3.20" height="30.73" fill="#fff"/>
<rect x="93.30" y="436.58" width="15.80" height="62.82" fill="url(#bg)" fill-opacity="0.9"/>
<rect x="127.80" y="468.67" width="3.20" height="30.73" fill="#fff"/>
<rect x="112.10" y="469.27" width="15.80" height="30.13" fill="url(#bg)" fill-opacity="0.9"/>
<rect x="146.60" y="467.39" width="3.20" height="32.01" fill="#fff"/>
<rect x="130.90" y="305.71" width="15.80" height="193.69" fill="url(#bg)" fill-opacity="0.9"/>
<rect x="165.40" y="467.39" width="3.20" height="32.01" fill="#fff"/>
<rect x="149.70" y="467.99" width="15.80" height="31.41" fill="url(#bg)" fill-opacity="0.9"/>
<rect x="184.20" y="434.38" width="3.20" height="65.02" fill="#fff"/>
<rect x="168.50" y="400.27" width="15.80" height="99.13" fill="url(#bg)" fill-opacity="0.9"/>
<rect x="203.00" y="434.38" width="3.20" height="65.02" fill="#fff"/>
<rect x="187.30" y="434.98" width="15.80" height="64.42" fill="url(#bg)" fill-opacity="0.9"/>
<rect x="221.80" y="477.29" width="3.20" height="22.11" fill="#fff"/>
<rect x="206.10" y="422.84" width="15.80" height="76.56" fill="url(#bg)" fill-opacity="0.9"/>
<rect x="240.60" y="477.29" width="3.20" height="22.11" fill="#fff"/>
<rect x="224.90" y="477.89" width="15.80" height="21.51" fill="url(#bg)" fill-opacity="0.9"/>
<rect x="259.40" y="426.07" width="3.20" height="73.33" fill="#fff"/>
<rect x="243.70" y="426.67" width="15.80" height="72.73" fill="url(#bg)" fill-opacity="0.9"/>
<rect x="278.20" y="402.76" width="3.20" height="96.64" fill="#fff"/>
<rect x="262.50" y="352.46" width="15.80" height="146.94" fill="url(#bg)" fill-opacity="0.9"/>
<rect x="297.00" y="493.26" width="3.20" height="6.14" fill="#fff"/>
<rect x="281.30" y="403.36" width="15.80" height="96.04" fill="url(#bg)" fill-opacity="0.9"/>
<rect x="315.80" y="493.26" width="3.20" height="6.14" fill="#fff"/>
<rect x="300.10" y="493.86" width="15.80" height="5.54" fill="url(#bg)" fill-opacity="0.9"/>
<rect x="318.90" y="489.07" width="15.80" height="10.33" fill="url(#bg)" fill-opacity="0.9"/>
<rect x="54.20" y="498.70" width="300.80" height="0.7" fill="#fff"/>
<line x1="54.20" y1="499.50" x2="355.00" y2="499.50" stroke="#e9e9e9" stroke-width="1.1"/>
<text x="63.60" y="410.60" transform="rotate(0.03 63.60 410.60)" text-anchor="middle" textLength="22.3" lengthAdjust="spacingAndGlyphs">0.07</text>
<text x="82.40" y="421.14" transform="rotate(0.03 82.40 421.14)" text-anchor="middle" textLength="22.3" lengthAdjust="spacingAndGlyphs">0.06</text>
<text x="101.20" y="426.68" transform="rotate(0.03 101.20 426.68)" text-anchor="middle" textLength="22.3" lengthAdjust="spacingAndGlyphs">0.06</text>
<text x="120.00" y="459.37" transform="rotate(0.03 120.00 459.37)" text-anchor="middle" textLength="22.3" lengthAdjust="spacingAndGlyphs">0.03</text>
<text x="138.80" y="295.81" transform="rotate(0.03 138.80 295.81)" text-anchor="middle" textLength="22.3" lengthAdjust="spacingAndGlyphs">0.18</text>
<text x="157.60" y="458.09" transform="rotate(0.03 157.60 458.09)" text-anchor="middle" textLength="22.3" lengthAdjust="spacingAndGlyphs">0.03</text>
<text x="176.40" y="390.37" transform="rotate(0.03 176.40 390.37)" text-anchor="middle" textLength="22.3" lengthAdjust="spacingAndGlyphs">0.09</text>
<text x="195.20" y="425.08" transform="rotate(0.03 195.20 425.08)" text-anchor="middle" textLength="22.3" lengthAdjust="spacingAndGlyphs">0.06</text>
<text x="214.00" y="412.94" transform="rotate(0.03 214.00 412.94)" text-anchor="middle" textLength="22.3" lengthAdjust="spacingAndGlyphs">0.07</text>
<text x="232.80" y="467.99" transform="rotate(0.03 232.80 467.99)" text-anchor="middle" textLength="22.3" lengthAdjust="spacingAndGlyphs">0.02</text>
<text x="251.60" y="416.77" transform="rotate(0.03 251.60 416.77)" text-anchor="middle" textLength="22.3" lengthAdjust="spacingAndGlyphs">0.07</text>
<text x="270.40" y="342.56" transform="rotate(0.03 270.40 342.56)" text-anchor="middle" textLength="22.3" lengthAdjust="spacingAndGlyphs">0.14</text>
<text x="289.20" y="393.46" transform="rotate(0.03 289.20 393.46)" text-anchor="middle" textLength="22.3" lengthAdjust="spacingAndGlyphs">0.09</text>
<text x="308.00" y="483.96" transform="rotate(0.03 308.00 483.96)" text-anchor="middle" textLength="22.3" lengthAdjust="spacingAndGlyphs">0.01</text>
<text x="326.80" y="479.17" transform="rotate(0.03 326.80 479.17)" text-anchor="middle" textLength="22.3" lengthAdjust="spacingAndGlyphs">0.01</text>
<g class="r" transform="translate(69.60,507.80) rotate(-90)"><text x="-18.43" textLength="6.72" lengthAdjust="spacingAndGlyphs">C</text><text x="-11.72" textLength="4.86" lengthAdjust="spacingAndGlyphs">/</text><text x="-6.85" textLength="6.85" lengthAdjust="spacingAndGlyphs">B</text></g>
<g class="r" transform="translate(88.40,507.80) rotate(-90)"><text x="-15.89" textLength="6.72" lengthAdjust="spacingAndGlyphs">C</text><text x="-9.17" textLength="3.84" lengthAdjust="spacingAndGlyphs">f</text><text x="-5.33" textLength="5.33" lengthAdjust="spacingAndGlyphs">c</text></g>
<g class="r" transform="translate(107.20,507.80) rotate(-90)"><text x="-24.80" textLength="5.78" lengthAdjust="spacingAndGlyphs">F</text><text x="-19.01" textLength="7.30" lengthAdjust="spacingAndGlyphs">A</text><text x="-11.72" textLength="4.86" lengthAdjust="spacingAndGlyphs">/</text><text x="-6.85" textLength="6.85" lengthAdjust="spacingAndGlyphs">B</text></g>
<g class="r" transform="translate(126.00,507.80) rotate(-90)"><text x="-26.32" textLength="5.78" lengthAdjust="spacingAndGlyphs">S</text><text x="-20.54" textLength="2.89" lengthAdjust="spacingAndGlyphs">l</text><text x="-17.65" textLength="5.93" lengthAdjust="spacingAndGlyphs">g</text><text x="-11.72" textLength="4.86" lengthAdjust="spacingAndGlyphs">/</text><text x="-6.85" textLength="6.85" lengthAdjust="spacingAndGlyphs">B</text></g>
<g class="r" transform="translate(144.80,507.80) rotate(-90)"><text x="-23.28" textLength="5.78" lengthAdjust="spacingAndGlyphs">S</text><text x="-17.50" textLength="5.78" lengthAdjust="spacingAndGlyphs">F</text><text x="-11.72" textLength="4.86" lengthAdjust="spacingAndGlyphs">/</text><text x="-6.85" textLength="6.85" lengthAdjust="spacingAndGlyphs">B</text></g>
<g class="r" transform="translate(163.60,507.80) rotate(-90)"><text x="-29.04" textLength="10.77" lengthAdjust="spacingAndGlyphs">M</text><text x="-18.27" textLength="6.55" lengthAdjust="spacingAndGlyphs">K</text><text x="-11.72" textLength="4.86" lengthAdjust="spacingAndGlyphs">/</text><text x="-6.85" textLength="6.85" lengthAdjust="spacingAndGlyphs">B</text></g>
<g class="r" transform="translate(182.40,507.80) rotate(-90)"><text x="-25.64" textLength="8.14" lengthAdjust="spacingAndGlyphs">N</text><text x="-17.50" textLength="5.78" lengthAdjust="spacingAndGlyphs">S</text><text x="-11.72" textLength="4.86" lengthAdjust="spacingAndGlyphs">/</text><text x="-6.85" textLength="6.85" lengthAdjust="spacingAndGlyphs">B</text></g>
<g class="r" transform="translate(201.20,507.80) rotate(-90)"><text x="-22.79" textLength="5.29" lengthAdjust="spacingAndGlyphs">L</text><text x="-17.50" textLength="5.78" lengthAdjust="spacingAndGlyphs">S</text><text x="-11.72" textLength="4.86" lengthAdjust="spacingAndGlyphs">/</text><text x="-6.85" textLength="6.85" lengthAdjust="spacingAndGlyphs">B</text></g>
<g class="r" transform="translate(220.00,507.80) rotate(-90)"><text x="-26.71" textLength="8.48" lengthAdjust="spacingAndGlyphs">Q</text><text x="-18.23" textLength="6.51" lengthAdjust="spacingAndGlyphs">P</text><text x="-11.72" textLength="4.86" lengthAdjust="spacingAndGlyphs">/</text><text x="-6.85" textLength="6.85" lengthAdjust="spacingAndGlyphs">B</text></g>
<g class="r" transform="translate(238.80,507.80) rotate(-90)"><text x="-17.50" textLength="5.78" lengthAdjust="spacingAndGlyphs">S</text><text x="-11.72" textLength="4.86" lengthAdjust="spacingAndGlyphs">/</text><text x="-6.85" textLength="6.85" lengthAdjust="spacingAndGlyphs">B</text></g>
<g class="r" transform="translate(257.60,507.80) rotate(-90)"><text x="-25.73" textLength="6.72" lengthAdjust="spacingAndGlyphs">C</text><text x="-19.01" textLength="7.30" lengthAdjust="spacingAndGlyphs">A</text><text x="-11.72" textLength="5.93" lengthAdjust="spacingAndGlyphs">g</text><text x="-5.78" textLength="5.78" lengthAdjust="spacingAndGlyphs">S</text></g>
<g class="r" transform="translate(276.40,507.80) rotate(-90)"><text x="-22.93" textLength="11.21" lengthAdjust="spacingAndGlyphs">W</text><text x="-11.72" textLength="4.86" lengthAdjust="spacingAndGlyphs">/</text><text x="-6.85" textLength="6.85" lengthAdjust="spacingAndGlyphs">B</text></g>
<g class="r" transform="translate(295.20,507.80) rotate(-90)"><text x="-23.52" textLength="6.51" lengthAdjust="spacingAndGlyphs">P</text><text x="-17.01" textLength="5.29" lengthAdjust="spacingAndGlyphs">L</text><text x="-11.72" textLength="4.86" lengthAdjust="spacingAndGlyphs">/</text><text x="-6.85" textLength="6.85" lengthAdjust="spacingAndGlyphs">B</text></g>
<g class="r" transform="translate(314.00,507.80) rotate(-90)"><text x="-21.07" textLength="5.78" lengthAdjust="spacingAndGlyphs">S</text><text x="-15.28" textLength="5.78" lengthAdjust="spacingAndGlyphs">F</text><text x="-9.50" textLength="2.89" lengthAdjust="spacingAndGlyphs">i</text><text x="-6.61" textLength="6.62" lengthAdjust="spacingAndGlyphs">b</text></g>
<g class="r" transform="translate(332.80,507.80) rotate(-90)"><text x="-34.12" textLength="5.78" lengthAdjust="spacingAndGlyphs">F</text><text x="-28.34" textLength="2.89" lengthAdjust="spacingAndGlyphs">i</text><text x="-25.45" textLength="6.62" lengthAdjust="spacingAndGlyphs">b</text><text x="-18.84" textLength="7.30" lengthAdjust="spacingAndGlyphs">A</text><text x="-11.54" textLength="4.93" lengthAdjust="spacingAndGlyphs">s</text><text x="-6.62" textLength="6.62" lengthAdjust="spacingAndGlyphs">p</text></g>
<rect x="39.50" y="293.10" width="20.80" height="82.50" fill="#fff"/>
<g class="r" transform="translate(54.40,370.00) rotate(-90)"><text x="0.00" textLength="3.18" lengthAdjust="spacingAndGlyphs">I</text><text x="3.18" textLength="10.77" lengthAdjust="spacingAndGlyphs">M</text><text x="13.95" textLength="6.51" lengthAdjust="spacingAndGlyphs">P</text><text x="20.46" textLength="8.34" lengthAdjust="spacingAndGlyphs">O</text><text x="28.80" textLength="6.84" lengthAdjust="spacingAndGlyphs">R</text><text x="35.65" textLength="6.14" lengthAdjust="spacingAndGlyphs">T</text><text x="41.78" textLength="7.30" lengthAdjust="spacingAndGlyphs">A</text><text x="49.08" textLength="8.14" lengthAdjust="spacingAndGlyphs">N</text><text x="57.22" textLength="6.72" lengthAdjust="spacingAndGlyphs">C</text><text x="63.93" textLength="6.15" lengthAdjust="spacingAndGlyphs">E</text></g>
<text class="cap" x="180.00" y="560.00" text-anchor="middle">(c)</text>
</g>
<g id="panel-d">
<line class="g" stroke="#eeeeee" x1="413.40" y1="499.40" x2="675.80" y2="499.40"/>
<text x="392.29" y="505.70" transform="rotate(0.03 401.30 505.70)" text-anchor="end" textLength="16.0" lengthAdjust="spacingAndGlyphs">0.0</text>
<text x="401.30" y="505.70" transform="rotate(0.03 401.30 505.70)" text-anchor="end" textLength="9.0" lengthAdjust="spacingAndGlyphs">%</text>
<line class="g" stroke="#e8e8e8" x1="413.40" y1="472.76" x2="675.80" y2="472.76"/>
<text x="392.29" y="479.06" transform="rotate(0.03 401.30 479.06)" text-anchor="end" textLength="16.0" lengthAdjust="spacingAndGlyphs">2.0</text>
<text x="401.30" y="479.06" transform="rotate(0.03 401.30 479.06)" text-anchor="end" textLength="9.0" lengthAdjust="spacingAndGlyphs">%</text>
<line class="g" stroke="#e2e2e2" x1="413.40" y1="446.12" x2="675.80" y2="446.12"/>
<text x="392.29" y="452.42" transform="rotate(0.03 401.30 452.42)" text-anchor="end" textLength="16.0" lengthAdjust="spacingAndGlyphs">4.0</text>
<text x="401.30" y="452.42" transform="rotate(0.03 401.30 452.42)" text-anchor="end" textLength="9.0" lengthAdjust="spacingAndGlyphs">%</text>
<line class="g" stroke="#dbdbdb" x1="413.40" y1="419.48" x2="675.80" y2="419.48"/>
<text x="392.29" y="425.78" transform="rotate(0.03 401.30 425.78)" text-anchor="end" textLength="16.0" lengthAdjust="spacingAndGlyphs">6.0</text>
<text x="401.30" y="425.78" transform="rotate(0.03 401.30 425.78)" text-anchor="end" textLength="9.0" lengthAdjust="spacingAndGlyphs">%</text>
<line class="g" stroke="#d5d5d5" x1="413.40" y1="392.84" x2="675.80" y2="392.84"/>
<text x="392.29" y="399.14" transform="rotate(0.03 401.30 399.14)" text-anchor="end" textLength="16.0" lengthAdjust="spacingAndGlyphs">8.0</text>
<text x="401.30" y="399.14" transform="rotate(0.03 401.30 399.14)" text-anchor="end" textLength="9.0" lengthAdjust="spacingAndGlyphs">%</text>
<line class="g" stroke="#d0d0d0" x1="413.40" y1="366.20" x2="675.80" y2="366.20"/>
<text x="392.29" y="372.50" transform="rotate(0.03 401.30 372.50)" text-anchor="end" textLength="22.3" lengthAdjust="spacingAndGlyphs">10.0</text>
<text x="401.30" y="372.50" transform="rotate(0.03 401.30 372.50)" text-anchor="end" textLength="9.0" lengthAdjust="spacingAndGlyphs">%</text>
<line class="g" stroke="#d0d0d0" x1="413.40" y1="339.56" x2="675.80" y2="339.56"/>
<text x="392.29" y="345.86" transform="rotate(0.03 401.30 345.86)" text-anchor="end" textLength="22.3" lengthAdjust="spacingAndGlyphs">12.0</text>
<text x="401.30" y="345.86" transform="rotate(0.03 401.30 345.86)" text-anchor="end" textLength="9.0" lengthAdjust="spacingAndGlyphs">%</text>
<line class="g" stroke="#d0d0d0" x1="413.40" y1="312.92" x2="675.80" y2="312.92"/>
<text x="392.29" y="319.22" transform="rotate(0.03 401.30 319.22)" text-anchor="end" textLength="22.3" lengthAdjust="spacingAndGlyphs">14.0</text>
<text x="401.30" y="319.22" transform="rotate(0.03 401.30 319.22)" text-anchor="end" textLength="9.0" lengthAdjust="spacingAndGlyphs">%</text>
<line class="g" stroke="#d0d0d0" x1="413.40" y1="286.28" x2="675.80" y2="286.28"/>
<text x="392.29" y="292.58" transform="rotate(0.03 401.30 292.58)" text-anchor="end" textLength="22.3" lengthAdjust="spacingAndGlyphs">16.0</text>
<text x="401.30" y="292.58" transform="rotate(0.03 401.30 292.58)" text-anchor="end" textLength="9.0" lengthAdjust="spacingAndGlyphs">%</text>
<rect x="428.30" y="492.94" width="3.00" height="6.46" fill="#fff"/>
<rect x="414.80" y="364.07" width="13.60" height="135.33" fill="url(#bg)" fill-opacity="0.9"/>
<rect x="444.70" y="492.94" width="3.00" height="6.46" fill="#fff"/>
<rect x="431.20" y="493.54" width="13.60" height="5.86" fill="url(#bg)" fill-opacity="0.9"/>
<rect x="461.10" y="473.49" width="3.00" height="25.91" fill="#fff"/>
<rect x="447.60" y="474.09" width="13.60" height="25.31" fill="url(#bg)" fill-opacity="0.9"/>
<rect x="477.50" y="418.35" width="3.00" height="81.05" fill="#fff"/>
<rect x="464.00" y="418.95" width="13.60" height="80.45" fill="url(#bg)" fill-opacity="0.9"/>
<rect x="493.90" y="467.63" width="3.00" height="31.77" fill="#fff"/>
<rect x="480.40" y="306.26" width="13.60" height="193.14" fill="url(#bg)" fill-opacity="0.9"/>
<rect x="510.30" y="467.63" width="3.00" height="31.77" fill="#fff"/>
<rect x="496.80" y="468.23" width="13.60" height="31.17" fill="url(#bg)" fill-opacity="0.9"/>
<rect x="526.70" y="444.99" width="3.00" height="54.41" fill="#fff"/>
<rect x="513.20" y="445.59" width="13.60" height="53.81" fill="url(#bg)" fill-opacity="0.9"/>
<rect x="543.10" y="416.62" width="3.00" height="82.78" fill="#fff"/>
<rect x="529.60" y="417.22" width="13.60" height="82.18" fill="url(#bg)" fill-opacity="0.9"/>
<rect x="559.50" y="382.25" width="3.00" height="117.15" fill="#fff"/>
<rect x="546.00" y="344.75" width="13.60" height="154.65" fill="url(#bg)" fill-opacity="0.9"/>
<rect x="575.90" y="469.76" width="3.00" height="29.64" fill="#fff"/>
<rect x="562.40" y="382.85" width="13.60" height="116.55" fill="url(#bg)" fill-opacity="0.9"/>
<rect x="592.30" y="469.76" width="3.00" height="29.64" fill="#fff"/>
<rect x="578.80" y="470.36" width="13.60" height="29.04" fill="url(#bg)" fill-opacity="0.9"/>
<rect x="608.70" y="375.72" width="3.00" height="123.68" fill="#fff"/>
<rect x="595.20" y="376.32" width="13.60" height="123.08" fill="url(#bg)" fill-opacity="0.9"/>
<rect x="625.10" y="482.02" width="3.00" height="17.38" fill="#fff"/>
<rect x="611.60" y="321.71" width="13.60" height="177.69" fill="url(#bg)" fill-opacity="0.9"/>
<rect x="641.50" y="482.02" width="3.00" height="17.38" fill="#fff"/>
<rect x="628.00" y="482.62" width="13.60" height="16.78" fill="url(#bg)" fill-opacity="0.9"/>
<rect x="644.40" y="398.17" width="13.60" height="101.23" fill="url(#bg)" fill-opacity="0.9"/>
<rect x="413.40" y="498.70" width="262.40" height="0.7" fill="#fff"/>
<line x1="413.40" y1="499.50" x2="675.80" y2="499.50" stroke="#e9e9e9" stroke-width="1.1"/>
<text x="421.60" y="354.17" transform="rotate(0.03 421.60 354.17)" text-anchor="middle" textLength="22.3" lengthAdjust="spacingAndGlyphs">0.10</text>
<text x="438.00" y="483.64" transform="rotate(0.03 438.00 483.64)" text-anchor="middle" textLength="22.3" lengthAdjust="spacingAndGlyphs">0.00</text>
<text x="454.40" y="464.19" transform="rotate(0.03 454.40 464.19)" text-anchor="middle" textLength="22.3" lengthAdjust="spacingAndGlyphs">0.02</text>
<text x="470.80" y="409.05" transform="rotate(0.03 470.80 409.05)" text-anchor="middle" textLength="22.3" lengthAdjust="spacingAndGlyphs">0.06</text>
<text x="487.20" y="296.36" transform="rotate(0.03 487.20 296.36)" text-anchor="middle" textLength="22.3" lengthAdjust="spacingAndGlyphs">0.15</text>
<text x="503.60" y="458.33" transform="rotate(0.03 503.60 458.33)" text-anchor="middle" textLength="22.3" lengthAdjust="spacingAndGlyphs">0.02</text>
<text x="520.00" y="435.69" transform="rotate(0.03 520.00 435.69)" text-anchor="middle" textLength="22.3" lengthAdjust="spacingAndGlyphs">0.04</text>
<text x="536.40" y="407.32" transform="rotate(0.03 536.40 407.32)" text-anchor="middle" textLength="22.3" lengthAdjust="spacingAndGlyphs">0.06</text>
<text x="552.80" y="334.85" transform="rotate(0.03 552.80 334.85)" text-anchor="middle" textLength="22.3" lengthAdjust="spacingAndGlyphs">0.12</text>
<text x="569.20" y="372.95" transform="rotate(0.03 569.20 372.95)" text-anchor="middle" textLength="22.3" lengthAdjust="spacingAndGlyphs">0.09</text>
<text x="585.60" y="460.46" transform="rotate(0.03 585.60 460.46)" text-anchor="middle" textLength="22.3" lengthAdjust="spacingAndGlyphs">0.02</text>
<text x="602.00" y="366.42" transform="rotate(0.03 602.00 366.42)" text-anchor="middle" textLength="22.3" lengthAdjust="spacingAndGlyphs">0.09</text>
<text x="618.40" y="311.81" transform="rotate(0.03 618.40 311.81)" text-anchor="middle" textLength="22.3" lengthAdjust="spacingAndGlyphs">0.13</text>
<text x="634.80" y="472.72" transform="rotate(0.03 634.80 472.72)" text-anchor="middle" textLength="22.3" lengthAdjust="spacingAndGlyphs">0.01</text>
<text x="651.20" y="388.27" transform="rotate(0.03 651.20 388.27)" text-anchor="middle" textLength="22.3" lengthAdjust="spacingAndGlyphs">0.08</text>
<g class="r" transform="translate(427.60,507.80) rotate(-90)"><text x="-18.43" textLength="6.72" lengthAdjust="spacingAndGlyphs">C</text><text x="-11.72" textLength="4.86" lengthAdjust="spacingAndGlyphs">/</text><text x="-6.85" textLength="6.85" lengthAdjust="spacingAndGlyphs">B</text></g>
<g class="r" transform="translate(444.00,507.80) rotate(-90)"><text x="-15.89" textLength="6.72" lengthAdjust="spacingAndGlyphs">C</text><text x="-9.17" textLength="3.84" lengthAdjust="spacingAndGlyphs">f</text><text x="-5.33" textLength="5.33" lengthAdjust="spacingAndGlyphs">c</text></g>
<g class="r" transform="translate(460.40,507.80) rotate(-90)"><text x="-24.80" textLength="5.78" lengthAdjust="spacingAndGlyphs">F</text><text x="-19.01" textLength="7.30" lengthAdjust="spacingAndGlyphs">A</text><text x="-11.72" textLength="4.86" lengthAdjust="spacingAndGlyphs">/</text><text x="-6.85" textLength="6.85" lengthAdjust="spacingAndGlyphs">B</text></g>
<g class="r" transform="translate(476.80,507.80) rotate(-90)"><text x="-26.32" textLength="5.78" lengthAdjust="spacingAndGlyphs">S</text><text x="-20.54" textLength="2.89" lengthAdjust="spacingAndGlyphs">l</text><text x="-17.65" textLength="5.93" lengthAdjust="spacingAndGlyphs">g</text><text x="-11.72" textLength="4.86" lengthAdjust="spacingAndGlyphs">/</text><text x="-6.85" textLength="6.85" lengthAdjust="spacingAndGlyphs">B</text></g>
<g class="r" transform="translate(493.20,507.80) rotate(-90)"><text x="-23.28" textLength="5.78" lengthAdjust="spacingAndGlyphs">S</text><text x="-17.50" textLength="5.78" lengthAdjust="spacingAndGlyphs">F</text><text x="-11.72" textLength="4.86" lengthAdjust="spacingAndGlyphs">/</text><text x="-6.85" textLength="6.85" lengthAdjust="spacingAndGlyphs">B</text></g>
<g class="r" transform="translate(509.60,507.80) rotate(-90)"><text x="-29.04" textLength="10.77" lengthAdjust="spacingAndGlyphs">M</text><text x="-18.27" textLength="6.55" lengthAdjust="spacingAndGlyphs">K</text><text x="-11.72" textLength="4.86" lengthAdjust="spacingAndGlyphs">/</text><text x="-6.85" textLength="6.85" lengthAdjust="spacingAndGlyphs">B</text></g>
<g class="r" transform="translate(526.00,507.80) rotate(-90)"><text x="-25.64" textLength="8.14" lengthAdjust="spacingAndGlyphs">N</text><text x="-17.50" textLength="5.78" lengthAdjust="spacingAndGlyphs">S</text><text x="-11.72" textLength="4.86" lengthAdjust="spacingAndGlyphs">/</text><text x="-6.85" textLength="6.85" lengthAdjust="spacingAndGlyphs">B</text></g>
<g class="r" transform="translate(542.40,507.80) rotate(-90)"><text x="-22.79" textLength="5.29" lengthAdjust="spacingAndGlyphs">L</text><text x="-17.50" textLength="5.78" lengthAdjust="spacingAndGlyphs">S</text><text x="-11.72" textLength="4.86" lengthAdjust="spacingAndGlyphs">/</text><text x="-6.85" textLength="6.85" lengthAdjust="spacingAndGlyphs">B</text></g>
<g class="r" transform="translate(558.80,507.80) rotate(-90)"><text x="-26.71" textLength="8.48" lengthAdjust="spacingAndGlyphs">Q</text><text x="-18.23" textLength="6.51" lengthAdjust="spacingAndGlyphs">P</text><text x="-11.72" textLength="4.86" lengthAdjust="spacingAndGlyphs">/</text><text x="-6.85" textLength="6.85" lengthAdjust="spacingAndGlyphs">B</text></g>
<g class="r" transform="translate(575.20,507.80) rotate(-90)"><text x="-17.50" textLength="5.78" lengthAdjust="spacingAndGlyphs">S</text><text x="-11.72" textLength="4.86" lengthAdjust="spacingAndGlyphs">/</text><text x="-6.85" textLength="6.85" lengthAdjust="spacingAndGlyphs">B</text></g>
<g class="r" transform="translate(591.60,507.80) rotate(-90)"><text x="-25.73" textLength="6.72" lengthAdjust="spacingAndGlyphs">C</text><text x="-19.01" textLength="7.30" lengthAdjust="spacingAndGlyphs">A</text><text x="-11.72" textLength="5.93" lengthAdjust="spacingAndGlyphs">g</text><text x="-5.78" textLength="5.78" lengthAdjust="spacingAndGlyphs">S</text></g>
<g class="r" transform="translate(608.00,507.80) rotate(-90)"><text x="-22.93" textLength="11.21" lengthAdjust="spacingAndGlyphs">W</text><text x="-11.72" textLength="4.86" lengthAdjust="spacingAndGlyphs">/</text><text x="-6.85" textLength="6.85" lengthAdjust="spacingAndGlyphs">B</text></g>
<g class="r" transform="translate(624.40,507.80) rotate(-90)"><text x="-23.52" textLength="6.51" lengthAdjust="spacingAndGlyphs">P</text><text x="-17.01" textLength="5.29" lengthAdjust="spacingAndGlyphs">L</text><text x="-11.72" textLength="4.86" lengthAdjust="spacingAndGlyphs">/</text><text x="-6.85" textLength="6.85" lengthAdjust="spacingAndGlyphs">B</text></g>
<g class="r" transform="translate(640.80,507.80) rotate(-90)"><text x="-21.07" textLength="5.78" lengthAdjust="spacingAndGlyphs">S</text><text x="-15.28" textLength="5.78" lengthAdjust="spacingAndGlyphs">F</text><text x="-9.50" textLength="2.89" lengthAdjust="spacingAndGlyphs">i</text><text x="-6.61" textLength="6.62" lengthAdjust="spacingAndGlyphs">b</text></g>
<g class="r" transform="translate(657.20,507.80) rotate(-90)"><text x="-34.12" textLength="5.78" lengthAdjust="spacingAndGlyphs">F</text><text x="-28.34" textLength="2.89" lengthAdjust="spacingAndGlyphs">i</text><text x="-25.45" textLength="6.62" lengthAdjust="spacingAndGlyphs">b</text><text x="-18.84" textLength="7.30" lengthAdjust="spacingAndGlyphs">A</text><text x="-11.54" textLength="4.93" lengthAdjust="spacingAndGlyphs">s</text><text x="-6.62" textLength="6.62" lengthAdjust="spacingAndGlyphs">p</text></g>
<rect x="396.60" y="293.10" width="21.10" height="82.00" fill="#fff"/>
<g class="r" transform="translate(410.90,369.60) rotate(-90)"><text x="0.00" textLength="3.18" lengthAdjust="spacingAndGlyphs">I</text><text x="3.18" textLength="10.77" lengthAdjust="spacingAndGlyphs">M</text><text x="13.95" textLength="6.51" lengthAdjust="spacingAndGlyphs">P</text><text x="20.46" textLength="8.34" lengthAdjust="spacingAndGlyphs">O</text><text x="28.80" textLength="6.84" lengthAdjust="spacingAndGlyphs">R</text><text x="35.65" textLength="6.14" lengthAdjust="spacingAndGlyphs">T</text><text x="41.78" textLength="7.30" lengthAdjust="spacingAndGlyphs">A</text><text x="49.08" textLength="8.14" lengthAdjust="spacingAndGlyphs">N</text><text x="57.22" textLength="6.72" lengthAdjust="spacingAndGlyphs">C</text><text x="63.93" textLength="6.15" lengthAdjust="spacingAndGlyphs">E</text></g>
<text class="cap" x="521.80" y="560.00" text-anchor="middle">(d)</text>
</g>
<rect x="359.05" y="0" width="1.0" height="565" fill="#3e3e3e"/>
<rect x="0" y="278.65" width="685" height="1.25" fill="#6c6c6c"/>
<rect x="0.0" y="278.65" width="8.1" height="1.25" fill="#151515"/>
<rect x="355.6" y="278.65" width="12.2" height="1.25" fill="#151515"/>
<rect x="676.4" y="278.65" width="8.6" height="1.25" fill="#151515"/>
<rect x="0" y="0" width="685" height="0.85" fill="#2a2a2a"/>
<rect x="342" y="0" width="25.5" height="1.0" fill="#000"/>
<rect x="0" y="0" width="1.1" height="565" fill="#000"/>
<rect x="683.75" y="0" width="1.25" height="565" fill="#000"/>
<rect x="0" y="563.6" width="685" height="1.4" fill="#000"/>
</svg>
</body></html>
